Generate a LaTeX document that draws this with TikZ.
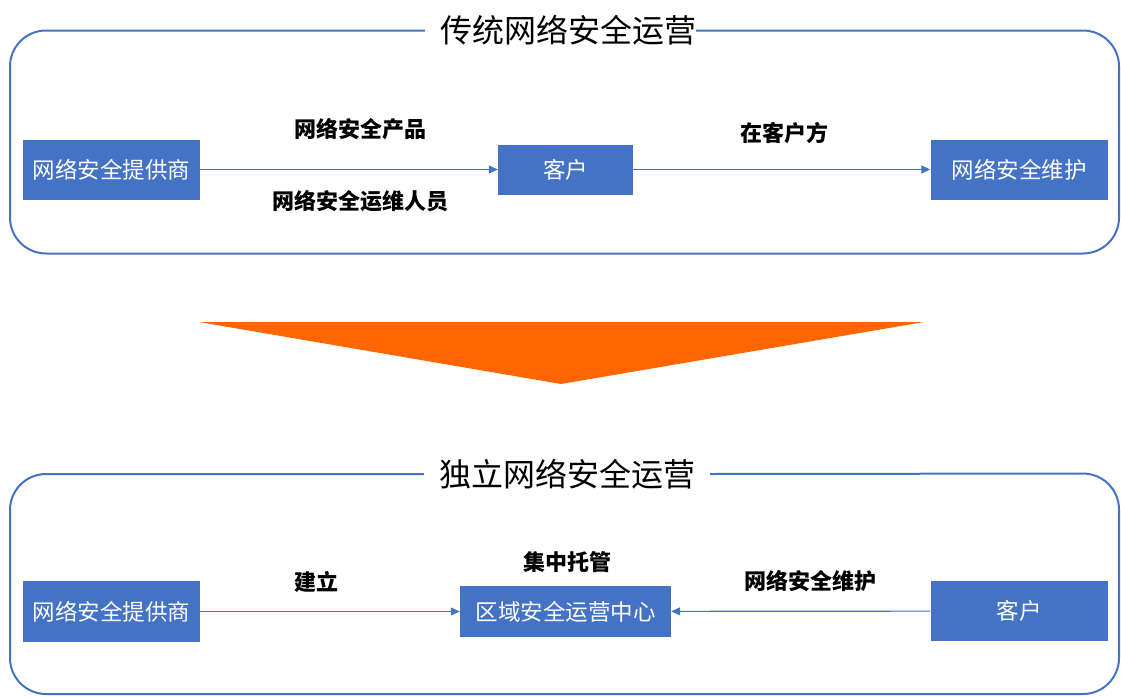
\documentclass[tikz,border=0pt]{standalone}
\usepackage{fontspec}
\setmainfont{Noto Sans CJK SC}
\usetikzlibrary{arrows.meta,positioning}
\definecolor{boxblue}{HTML}{4472C4}
\definecolor{bigorange}{HTML}{FF6600}

\begin{document}
\begin{tikzpicture}[x=1pt,y=-1pt,
  frame/.style={draw=boxblue,line width=2pt,rounded corners=36pt},
  title/.style={inner sep=0pt,font=\fontsize{32}{34}\selectfont},
  blk/.style={fill=boxblue,text=white,inner sep=0pt,font=\fontsize{22.5}{24}\selectfont},
  lbl/.style={inner sep=0pt,font=\fontsize{22}{24}\selectfont\bfseries},
  link/.style={draw=boxblue,line width=1.2pt,-{Triangle[length=9pt,width=8pt]}}]
\useasboundingbox (0,0) rectangle (1121,696);
%traditional
\node[title] (t1) at (568,30.5) {传统网络安全运营};
\draw[frame] ([xshift=-15pt]t1.west) -| (10,253.5) -| (1119,30.5) -- (t1.east);
\node[blk,minimum width=177pt,minimum height=60pt] (prov1) at (111.5,169.5) {网络安全提供商};
\node[blk,minimum width=135pt,minimum height=50pt] (cust1) at (565.5,169.5) {客户};
\node[blk,minimum width=177pt,minimum height=60pt] (maint1) at (1019,169.5) {网络安全维护};
\draw[link] (prov1) -- (cust1);
\draw[link] (cust1) -- (maint1);
\node[lbl] (prod) at (360,129) {网络安全产品};
\node[lbl] (staff) at (360.5,201) {网络安全运维人员};
\node[lbl] (onsite) at (784,133) {在客户方};
%arrow
\fill[bigorange] (199,322) -- (924,322) -- (561,384) -- cycle;
%independent
\node[title] (t2) at (567,474) {独立网络安全运营};
\draw[frame] ([xshift=-15pt]t2.west) -| (10,694) -| (1119,473.5) -- ([xshift=15pt]t2.east);
\node[blk,minimum width=177pt,minimum height=61pt] (prov2) at (111.5,611.5) {网络安全提供商};
\node[blk,minimum width=211pt,minimum height=51pt] (soc) at (565.5,611.5) {区域安全运营中心};
\node[blk,minimum width=177pt,minimum height=60pt] (cust2) at (1019,611) {客户};
\draw[link] (prov2) -- (soc);
\draw[link] (cust2) -- (soc);
\node[lbl] (build) at (316,582) {建立};
\node[lbl] (host) at (567,562) {集中托管};
\node[lbl] (maint2) at (810,581) {网络安全维护};
\end{tikzpicture}
\end{document}
